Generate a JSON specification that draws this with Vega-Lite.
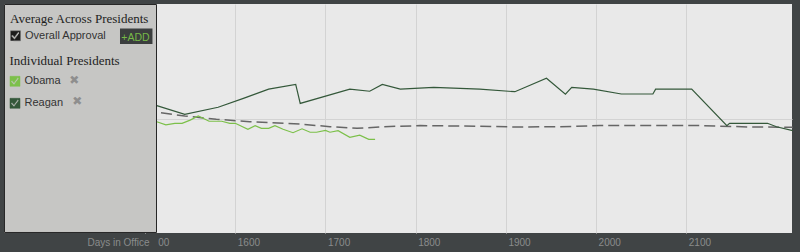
{
  "$schema": "https://vega.github.io/schema/vega-lite/v6.json",
  "width": 788,
  "height": 229,
  "autosize": {"type": "none"},
  "padding": {"left": 4, "top": 4, "right": 8, "bottom": 19},
  "background": "#404445",
  "config": {
    "view": {"fill": "#e9e9e9", "stroke": null}
  },
  "datasets": {
    "avg": [
      {"series": "Overall Approval", "day": 1500, "approval": 53.1},
      {"series": "Overall Approval", "day": 1513, "approval": 52.7},
      {"series": "Overall Approval", "day": 1544, "approval": 51.1},
      {"series": "Overall Approval", "day": 1579, "approval": 49.7},
      {"series": "Overall Approval", "day": 1616, "approval": 48.6},
      {"series": "Overall Approval", "day": 1672, "approval": 47.6},
      {"series": "Overall Approval", "day": 1705, "approval": 46.4},
      {"series": "Overall Approval", "day": 1735, "approval": 45.7},
      {"series": "Overall Approval", "day": 1764, "approval": 46.4},
      {"series": "Overall Approval", "day": 1805, "approval": 46.9},
      {"series": "Overall Approval", "day": 1871, "approval": 46.6},
      {"series": "Overall Approval", "day": 1910, "approval": 46.3},
      {"series": "Overall Approval", "day": 1960, "approval": 46.4},
      {"series": "Overall Approval", "day": 2004, "approval": 46.9},
      {"series": "Overall Approval", "day": 2115, "approval": 46.9},
      {"series": "Overall Approval", "day": 2171, "approval": 46.3},
      {"series": "Overall Approval", "day": 2218, "approval": 46.2}
    ],
    "pres": [
      {"president": "Obama", "day": 1500, "approval": 49.8},
      {"president": "Obama", "day": 1513, "approval": 48.6},
      {"president": "Obama", "day": 1523, "approval": 47.2},
      {"president": "Obama", "day": 1533, "approval": 47.9},
      {"president": "Obama", "day": 1541, "approval": 47.9},
      {"president": "Obama", "day": 1550, "approval": 49.3},
      {"president": "Obama", "day": 1559, "approval": 51.1},
      {"president": "Obama", "day": 1571, "approval": 48.8},
      {"president": "Obama", "day": 1585, "approval": 48.8},
      {"president": "Obama", "day": 1594, "approval": 47.9},
      {"president": "Obama", "day": 1600, "approval": 47.9},
      {"president": "Obama", "day": 1614, "approval": 45.3},
      {"president": "Obama", "day": 1622, "approval": 46.9},
      {"president": "Obama", "day": 1629, "approval": 45.7},
      {"president": "Obama", "day": 1637, "approval": 45.7},
      {"president": "Obama", "day": 1644, "approval": 46.9},
      {"president": "Obama", "day": 1653, "approval": 45.3},
      {"president": "Obama", "day": 1664, "approval": 43.8},
      {"president": "Obama", "day": 1674, "approval": 45.5},
      {"president": "Obama", "day": 1683, "approval": 44.0},
      {"president": "Obama", "day": 1690, "approval": 44.0},
      {"president": "Obama", "day": 1700, "approval": 44.8},
      {"president": "Obama", "day": 1705, "approval": 44.0},
      {"president": "Obama", "day": 1714, "approval": 44.7},
      {"president": "Obama", "day": 1727, "approval": 41.8},
      {"president": "Obama", "day": 1738, "approval": 42.7},
      {"president": "Obama", "day": 1748, "approval": 40.9},
      {"president": "Obama", "day": 1755, "approval": 40.9},
      {"president": "Reagan", "day": 1500, "approval": 57.2},
      {"president": "Reagan", "day": 1513, "approval": 55.6},
      {"president": "Reagan", "day": 1544, "approval": 51.8},
      {"president": "Reagan", "day": 1581, "approval": 54.9},
      {"president": "Reagan", "day": 1609, "approval": 58.8},
      {"president": "Reagan", "day": 1637, "approval": 62.8},
      {"president": "Reagan", "day": 1667, "approval": 64.9},
      {"president": "Reagan", "day": 1672, "approval": 56.6},
      {"president": "Reagan", "day": 1727, "approval": 62.8},
      {"president": "Reagan", "day": 1749, "approval": 61.9},
      {"president": "Reagan", "day": 1763, "approval": 64.9},
      {"president": "Reagan", "day": 1783, "approval": 62.8},
      {"president": "Reagan", "day": 1820, "approval": 63.6},
      {"president": "Reagan", "day": 1871, "approval": 62.8},
      {"president": "Reagan", "day": 1910, "approval": 61.7},
      {"president": "Reagan", "day": 1945, "approval": 67.6},
      {"president": "Reagan", "day": 1966, "approval": 60.6},
      {"president": "Reagan", "day": 1973, "approval": 63.6},
      {"president": "Reagan", "day": 1997, "approval": 62.8},
      {"president": "Reagan", "day": 2028, "approval": 60.7},
      {"president": "Reagan", "day": 2063, "approval": 60.7},
      {"president": "Reagan", "day": 2066, "approval": 62.8},
      {"president": "Reagan", "day": 2106, "approval": 62.8},
      {"president": "Reagan", "day": 2145, "approval": 46.9},
      {"president": "Reagan", "day": 2148, "approval": 47.9},
      {"president": "Reagan", "day": 2190, "approval": 47.9},
      {"president": "Reagan", "day": 2200, "approval": 46.4},
      {"president": "Reagan", "day": 2218, "approval": 44.7}
    ]
  },
  "encoding": {
    "x": {
      "type": "quantitative",
      "scale": {"domain": [1343.6, 2217.2], "nice": false, "zero": false},
      "axis": {
        "title": "Days in Office",
        "titleFont": "Liberation Sans",
        "titleFontSize": 10,
        "titleFontWeight": "normal",
        "titleColor": "#8a8c8c",
        "titleX": 145,
        "titleY": 12.3,
        "titleAlign": "right",
        "titleBaseline": "alphabetic",
        "titleAngle": 0,
        "values": [1500, 1600, 1700, 1800, 1900, 2000, 2100],
        "format": "d",
        "labelExpr": "datum.value == 1500 ? '00' : datum.label",
        "labelAlign": "left",
        "labelBaseline": "alphabetic",
        "labelOffset": {"condition": {"test": "datum.value == 1500", "value": 12.7}, "value": 2},
        "labelPadding": 12.7,
        "labelFont": "Liberation Sans",
        "labelFontSize": 10,
        "labelColor": "#8a8c8c",
        "labelFlush": false,
        "labelOverlap": false,
        "ticks": false,
        "tickSize": 0,
        "domain": false,
        "grid": true,
        "gridColor": "#d3d3d3",
        "gridWidth": 1
      }
    },
    "y": {
      "type": "quantitative",
      "scale": {"domain": [0, 100], "nice": false, "zero": false},
      "axis": {
        "title": null,
        "values": [50],
        "labels": false,
        "ticks": false,
        "domain": false,
        "grid": true,
        "gridColor": "#d3d3d3",
        "gridWidth": 1
      }
    }
  },
  "layer": [
    {
      "data": {"name": "avg"},
      "mark": {"type": "line", "color": "#666666", "strokeWidth": 1.5},
      "encoding": {
        "x": {"field": "day", "type": "quantitative"},
        "y": {"field": "approval", "type": "quantitative"},
        "strokeDash": {
          "field": "series",
          "type": "nominal",
          "scale": {"domain": ["Overall Approval"], "range": [[11, 5]]},
          "legend": {
            "title": "Average Across Presidents",
            "orient": "none",
            "legendX": 6,
            "legendY": 8.7,
            "padding": 0,
            "titleFont": "Liberation Serif",
            "titleFontSize": 13,
            "titleFontWeight": "normal",
            "titleColor": "#1e1e1e",
            "titlePadding": 4.6,
            "titleLimit": 200,
            "labelFont": "Liberation Sans",
            "labelFontSize": 11,
            "labelColor": "#333333",
            "labelOffset": 4,
            "symbolType": "M-1,-1H1V1H-1Z M-0.6,-0.15L-0.8,0.05L-0.2,0.7L0.75,-0.55L0.55,-0.75L-0.2,0.3Z",
            "symbolSize": 100,
            "symbolStrokeWidth": 0.5,
            "symbolFillColor": "#1b1b1b",
            "symbolStrokeColor": "#777777",
            "symbolOpacity": 1,
            "encode": {
              "symbols": {
                "enter": {
                  "fill": {"value": "#1b1b1b"},
                  "fillOpacity": {"value": 1}
                },
                "update": {
                  "fill": {"value": "#1b1b1b"},
                  "fillOpacity": {"value": 1},
                  "stroke": {"value": "#777777"},
                  "strokeDash": {"value": [1, 0]},
                  "strokeWidth": {"value": 0.5},
                  "opacity": {"value": 1}
                }
              }
            }
          }
        }
      }
    },
    {
      "data": {"name": "pres"},
      "mark": {"type": "line", "strokeWidth": 1.2},
      "encoding": {
        "x": {"field": "day", "type": "quantitative"},
        "y": {"field": "approval", "type": "quantitative"},
        "color": {
          "field": "president",
          "type": "nominal",
          "scale": {"domain": ["Obama", "Reagan"], "range": ["#7cc04a", "#34583a"]},
          "legend": {
            "title": "Individual Presidents",
            "orient": "none",
            "legendX": 5.5,
            "legendY": 51,
            "padding": 0,
            "titleFont": "Liberation Serif",
            "titleFontSize": 13,
            "titleFontWeight": "normal",
            "titleColor": "#1e1e1e",
            "titlePadding": 7.8,
            "labelFont": "Liberation Sans",
            "labelFontSize": 11,
            "labelColor": "#333333",
            "labelOffset": 4,
            "rowPadding": 9,
            "symbolType": "M-1,-1H1V1H-1Z M-0.6,-0.15L-0.8,0.05L-0.2,0.7L0.75,-0.55L0.55,-0.75L-0.2,0.3Z",
            "symbolSize": 100,
            "symbolStrokeWidth": 0.5,
            "encode": {
              "symbols": {
                "update": {
                  "fill": {"scale": "color", "field": "value"},
                  "stroke": {"scale": "color", "field": "value"},
                  "strokeWidth": {"value": 0.5},
                  "opacity": {"value": 1}
                }
              }
            }
          }
        }
      }
    },
    {
      "data": {"values": [{}]},
      "mark": {"type": "rect", "fill": "#c6c6c4", "stroke": "#262626", "strokeWidth": 1},
      "encoding": {
        "x": {"datum": 1344.15},
        "x2": {"datum": 1512.67},
        "y": {"datum": 99.78},
        "y2": {"datum": 0.22}
      }
    },
    {
      "data": {"values": [{}]},
      "mark": {"type": "rect", "fill": "#3b3e3e"},
      "encoding": {
        "x": {"datum": 1472.2},
        "x2": {"datum": 1508.2},
        "y": {"datum": 89.3},
        "y2": {"datum": 82.53}
      }
    },
    {
      "data": {"values": [{}]},
      "mark": {"type": "text", "text": "+ADD", "font": "Liberation Sans", "fontSize": 10.5, "color": "#76b947", "align": "center", "baseline": "alphabetic"},
      "encoding": {
        "x": {"datum": 1489.4},
        "y": {"datum": 83.97}
      }
    },
    {
      "data": {"values": [{}]},
      "mark": {"type": "text", "text": "✖", "font": "DejaVu Sans", "fontSize": 12, "color": "#8e8e8e", "align": "center", "baseline": "middle"},
      "encoding": {
        "x": {"datum": 1421.4},
        "y": {"datum": 66.68}
      }
    },
    {
      "data": {"values": [{}]},
      "mark": {"type": "text", "text": "✖", "font": "DejaVu Sans", "fontSize": 12, "color": "#8e8e8e", "align": "center", "baseline": "middle"},
      "encoding": {
        "x": {"datum": 1424.8},
        "y": {"datum": 57.55}
      }
    }
  ]
}
